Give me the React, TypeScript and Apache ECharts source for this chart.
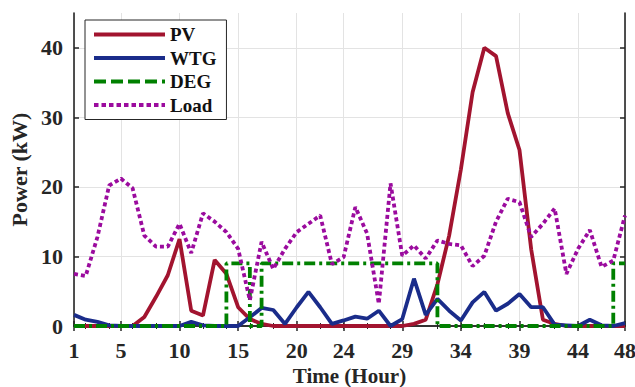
import React, { useEffect, useRef } from "react";
import * as echarts from "echarts";

const hours = [1,2,3,4,5,6,7,8,9,10,11,12,13,14,15,16,17,18,19,20,21,22,23,24,25,26,27,28,29,30,31,32,33,34,35,36,37,38,39,40,41,42,43,44,45,46,47,48];
const pv = [0,0,0,0,0,0,1.3,4.2,7.3,12.5, 2.2,1.5,9.5,7.5,2.7,1.0,0.3,0,0,0, 0,0,0,0,0,0,0,0,0,0.3, 0.9,6,13,22.5,33.6,40,38.8,30.6,25.3,11, 0.9,0.3,0,0,0,0,0,0];
const wtg = [1.6,0.9,0.6,0.1,0,0,0,0,0,0, 0.6,0.1,0,0,0,1.25,2.6,2.3,0.3,2.7, 4.9,2.7,0.3,0.8,1.35,1.05,2.2,0,1.0,6.8, 1.6,3.9,2.2,0.8,3.4,4.9,2.2,3.2,4.6,2.7, 2.7,0.2,0.1,0,0.9,0.1,0,0.4];
const deg = [0,0,0,0,0,0,0,0,0,0, 0,0,0,9,9,0,9,9,9,9, 9,9,9,9,9,9,9,9,9,9, 9,0,0,0,0,0,0,0,0,0, 0,0,0,0,0,0,9,9];
const load = [7.5,7.2,12.8,20.2,21.2,19.8,13,11.4,11.4,14.7, 10.5,16.2,15,13.5,11.1,3.7,12.1,8.2,11.1,13.5, 14.7,15.9,8.9,9.9,17.1,13.3,3.2,20.5,10.1,11.6, 9.7,12.3,11.8,11.6,8.6,10.1,15,18.3,17.8,12.8, 14.7,16.9,7.5,11.1,13.8,8.5,9.4,15.9];
const xTicks = [1, 5, 10, 15, 20, 24, 29, 34, 39, 44, 48];
const yTicks = [0, 10, 20, 30, 40];

const FONT = "'Liberation Serif', 'Times New Roman', serif";
const AX = "#262626";

export default function App() {
  const ref = useRef<HTMLDivElement>(null);
  useEffect(() => {
    const chart = echarts.init(ref.current!, null, { renderer: "svg" });
    const pair = (arr: number[]) => arr.map((v, i) => [hours[i], v]);
    const axisCommon = {
      axisLine: { show: true, lineStyle: { color: AX, width: 1.6 } },
    };
    const labelFont = { fontFamily: FONT, fontWeight: "bold", fontSize: 22, color: AX };
    chart.setOption({
      animation: false,
      backgroundColor: "#fff",
      grid: { left: 74, right: 10, top: 13, bottom: 61, outerBoundsMode: "none", containLabel: false },
      legend: {
        orient: "vertical",
        left: 85,
        top: 20,
        padding: [5, 10, 5, 7],
        itemWidth: 71,
        itemHeight: 14,
        itemGap: 4.5,
        itemStyle: { opacity: 0, borderWidth: 0 },
        lineStyle: { width: 4 },
        backgroundColor: "#fff",
        borderColor: AX,
        borderWidth: 1,
        borderRadius: 0,
        textStyle: { fontFamily: FONT, fontWeight: "bold", fontSize: 19, color: "#111", lineHeight: 19 },
        data: [
          { name: "PV" },
          { name: "WTG" },
          { name: "DEG", lineStyle: { type: [12, 5], width: 4 } },
          { name: "Load", lineStyle: { type: [4.5, 3], width: 4 } },
        ],
      },
      xAxis: [
        {
          type: "value", min: 1, max: 48,
          ...axisCommon,
          name: "Time (Hour)", nameLocation: "middle", nameGap: 33,
          nameTextStyle: { ...labelFont, fontSize: 21, lineHeight: 21 },
          axisTick: { show: true, inside: true, length: 5, customValues: xTicks, lineStyle: { color: AX, width: 1.5 } },
          minorTick: { show: true, splitNumber: 5, length: 3, lineStyle: { color: AX, width: 1 } },
          axisLabel: { customValues: xTicks, margin: 13, ...labelFont },
          splitLine: { show: true, lineStyle: { color: "#e3e3e3", width: 1 } },
        },
        {
          type: "value", min: 1, max: 48, position: "top",
          ...axisCommon,
          axisTick: { show: true, inside: true, length: 5, customValues: xTicks, lineStyle: { color: AX, width: 1.5 } },
          minorTick: { show: true, splitNumber: 5, length: 3, lineStyle: { color: AX, width: 1 } },
          axisLabel: { show: false },
          splitLine: { show: false },
        },
      ],
      yAxis: [
        {
          type: "value", min: 0, max: 45,
          ...axisCommon,
          name: "Power (kW)", nameLocation: "middle", nameGap: 44,
          nameTextStyle: labelFont,
          axisTick: { show: true, inside: true, length: 5, customValues: yTicks, lineStyle: { color: AX, width: 1.5 } },
          axisLabel: { customValues: yTicks, margin: 11, ...labelFont },
          splitLine: { show: true, lineStyle: { color: "#e3e3e3", width: 1 } },
        },
        {
          type: "value", min: 0, max: 45, position: "right",
          ...axisCommon,
          axisTick: { show: true, inside: true, length: 5, customValues: yTicks, lineStyle: { color: AX, width: 1.5 } },
          axisLabel: { show: false },
          splitLine: { show: false },
        },
      ],
      series: [
        { name: "PV", type: "line", data: pair(pv), showSymbol: false, symbol: "none",
          lineStyle: { color: "#A2142F", width: 3.8 }, itemStyle: { color: "#A2142F" } },
        { name: "WTG", type: "line", data: pair(wtg), showSymbol: false, symbol: "none",
          lineStyle: { color: "#1A2C8A", width: 3.8 }, itemStyle: { color: "#1A2C8A" } },
        { name: "DEG", type: "line", step: "end", data: pair(deg), showSymbol: false, symbol: "none",
          lineStyle: { color: "#008000", width: 3.8, type: [11, 4, 3, 4] }, itemStyle: { color: "#008000" } },
        { name: "Load", type: "line", data: pair(load), showSymbol: false, symbol: "none",
          lineStyle: { color: "#9B0B9E", width: 3.8, type: [4, 3] }, itemStyle: { color: "#9B0B9E" } },
      ],
    });
    return () => chart.dispose();
  }, []);
  return <div ref={ref} style={{ position: "absolute", left: 0, top: 0, width: 635, height: 387 }} />;
}
